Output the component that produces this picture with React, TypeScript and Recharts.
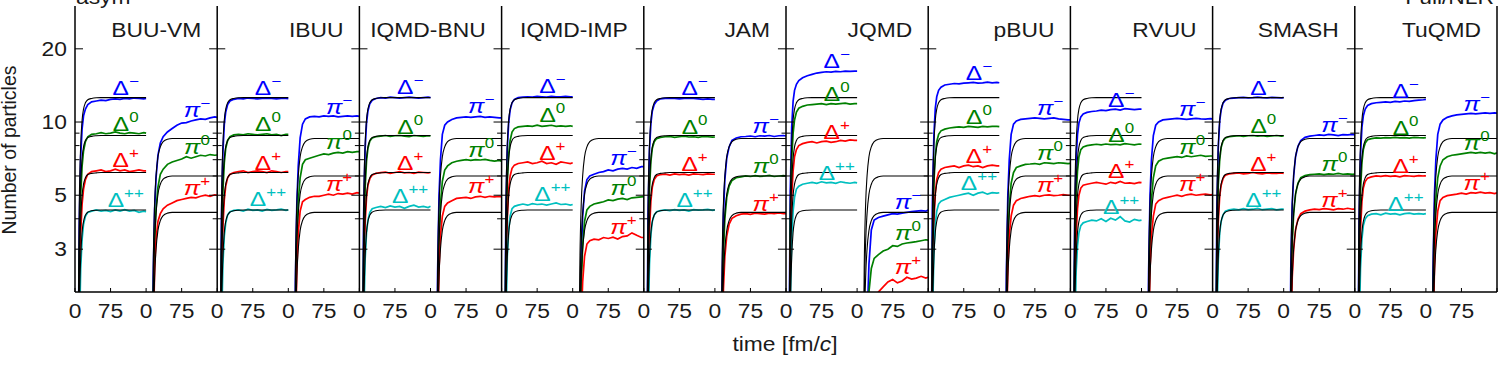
import React from "react";
import { ComposedChart, Line, XAxis, YAxis, ReferenceLine, ReferenceDot } from "recharts";

const FONT = "'Liberation Sans', Arial, Helvetica, sans-serif";
const TEXT = "#1a1a1a";
const STRETCH = 1.17;
const BLUE = "#0000ff";
const GREEN = "#008000";
const RED = "#ff0000";
const CYAN = "#00bfbf";

const MODELS = ["BUU-VM", "IBUU", "IQMD-BNU", "IQMD-IMP", "JAM", "JQMD", "pBUU", "RVUU", "SMASH", "TuQMD"];

// each sub-panel spans 0..150 fm/c; a model panel = Delta sub-panel + pion sub-panel
const SPAN = 150;
const T_DELTA = [6, 9, 12, 15, 18, 22, 27, 35, 45, 55, 65, 75, 85, 95, 105, 115, 125, 135, 145, 150];
const T_PION = [12, 15, 18, 21, 25, 30, 36, 45, 55, 65, 75, 85, 95, 105, 115, 125, 135, 145, 150];
const LABEL_T = 105;

const X_TICKS = Array.from({ length: 41 }, (_, i) => i * 75);
const X_TICK_LABELS = ["0", "75"];
const Y_TICKS = [3, 4, 5, 6, 7, 8, 9, 10, 20];
const Y_LABELED = [3, 5, 10, 20];

// black reference curves (same in every panel)
const REF_DM = [0.8, 4.5, 8.0, 10.2, 11.3, 12.0, 12.35, 12.5, 12.58, 12.6, 12.6, 12.6, 12.6, 12.6, 12.6, 12.6, 12.6, 12.6, 12.6, 12.6];
const REF_D0 = [0.56, 3.15, 5.6, 7.1, 7.9, 8.4, 8.63, 8.73, 8.78, 8.8, 8.8, 8.8, 8.8, 8.8, 8.8, 8.8, 8.8, 8.8, 8.8, 8.8];
const REF_DP = [0.4, 2.2, 3.95, 5.0, 5.55, 5.9, 6.08, 6.15, 6.18, 6.2, 6.2, 6.2, 6.2, 6.2, 6.2, 6.2, 6.2, 6.2, 6.2, 6.2];
const REF_DPP = [0.28, 1.55, 2.76, 3.52, 3.9, 4.14, 4.26, 4.32, 4.34, 4.35, 4.35, 4.35, 4.35, 4.35, 4.35, 4.35, 4.35, 4.35, 4.35, 4.35];
const REF_PM = [0.5, 2.5, 4.6, 6.0, 7.2, 7.9, 8.3, 8.5, 8.55, 8.55, 8.55, 8.55, 8.55, 8.55, 8.55, 8.55, 8.55, 8.55, 8.55];
const REF_P0 = [0.35, 1.75, 3.2, 4.2, 5.05, 5.55, 5.82, 5.95, 6.0, 6.0, 6.0, 6.0, 6.0, 6.0, 6.0, 6.0, 6.0, 6.0, 6.0];
const REF_PP = [0.25, 1.25, 2.3, 3.0, 3.58, 3.93, 4.12, 4.22, 4.25, 4.25, 4.25, 4.25, 4.25, 4.25, 4.25, 4.25, 4.25, 4.25, 4.25];

// BUU-VM
const BUUVM_DM = [0.6, 3.8, 7.2, 9.4, 10.6, 11.3, 11.8, 12.1, 12.2, 12.3, 12.25, 12.4, 12.45, 12.4, 12.5, 12.45, 12.55, 12.5, 12.45, 12.5];
const BUUVM_D0 = [0.45, 2.6, 5.0, 6.6, 7.6, 8.3, 8.7, 8.9, 8.95, 9.05, 8.95, 9.0, 9.1, 9.0, 8.95, 9.05, 9.0, 8.95, 9.05, 9.0];
const BUUVM_DP = [0.3, 1.8, 3.5, 4.6, 5.3, 5.8, 6.1, 6.25, 6.3, 6.35, 6.25, 6.3, 6.4, 6.3, 6.35, 6.25, 6.3, 6.35, 6.3, 6.3];
const BUUVM_DPP = [0.2, 1.3, 2.5, 3.3, 3.8, 4.1, 4.25, 4.3, 4.35, 4.3, 4.33, 4.28, 4.35, 4.3, 4.36, 4.3, 4.33, 4.25, 4.3, 4.28];
const BUUVM_PM = [0.45, 2.3, 4.4, 5.9, 7.3, 8.2, 8.7, 9.1, 9.4, 9.7, 9.9, 9.95, 10.1, 10.2, 10.3, 10.25, 10.4, 10.5, 10.45];
const BUUVM_P0 = [0.35, 1.8, 3.3, 4.4, 5.4, 6.1, 6.4, 6.7, 6.85, 6.95, 7.05, 7.2, 7.1, 7.2, 7.3, 7.25, 7.35, 7.3, 7.32];
const BUUVM_PP = [0.25, 1.3, 2.5, 3.3, 3.9, 4.2, 4.4, 4.55, 4.65, 4.75, 4.8, 4.85, 4.9, 4.88, 4.95, 5.0, 4.95, 5.02, 5.0];

// IBUU
const IBUU_DM = [0.65, 4.0, 7.5, 9.8, 11.0, 11.8, 12.2, 12.4, 12.5, 12.45, 12.55, 12.5, 12.45, 12.5, 12.55, 12.5, 12.45, 12.5, 12.5, 12.48];
const IBUU_D0 = [0.48, 2.8, 5.2, 6.8, 7.8, 8.4, 8.7, 8.85, 8.9, 8.85, 8.95, 8.9, 8.85, 8.9, 8.95, 8.85, 8.9, 8.8, 8.9, 8.9];
const IBUU_DP = [0.33, 1.9, 3.7, 4.8, 5.45, 5.9, 6.1, 6.2, 6.25, 6.3, 6.2, 6.25, 6.3, 6.25, 6.2, 6.3, 6.25, 6.2, 6.25, 6.25];
const IBUU_DPP = [0.22, 1.35, 2.6, 3.4, 3.85, 4.15, 4.28, 4.33, 4.35, 4.3, 4.38, 4.33, 4.35, 4.3, 4.37, 4.33, 4.35, 4.38, 4.33, 4.35];
const IBUU_PM = [0.4, 2.2, 4.6, 6.6, 8.6, 9.8, 10.3, 10.5, 10.55, 10.5, 10.6, 10.55, 10.6, 10.5, 10.55, 10.6, 10.55, 10.6, 10.55];
const IBUU_P0 = [0.3, 1.6, 3.3, 4.7, 5.9, 6.7, 7.0, 7.1, 7.2, 7.3, 7.4, 7.35, 7.45, 7.5, 7.45, 7.55, 7.5, 7.55, 7.55];
const IBUU_PP = [0.22, 1.2, 2.5, 3.5, 4.3, 4.7, 4.8, 4.9, 4.95, 4.95, 5.0, 5.05, 5.0, 5.08, 5.05, 5.1, 5.05, 5.12, 5.1];

// IQMD-BNU
const BNU_DM = [0.7, 4.2, 7.7, 9.9, 11.1, 11.9, 12.3, 12.5, 12.6, 12.55, 12.65, 12.6, 12.55, 12.6, 12.65, 12.6, 12.55, 12.6, 12.65, 12.6];
const BNU_D0 = [0.5, 2.9, 5.3, 6.9, 7.8, 8.35, 8.6, 8.7, 8.75, 8.8, 8.72, 8.78, 8.8, 8.75, 8.7, 8.8, 8.76, 8.72, 8.78, 8.76];
const BNU_DP = [0.35, 2.0, 3.8, 4.9, 5.5, 5.85, 6.05, 6.15, 6.2, 6.22, 6.15, 6.2, 6.25, 6.18, 6.2, 6.15, 6.22, 6.2, 6.18, 6.2];
const BNU_DPP = [0.24, 1.45, 2.7, 3.5, 3.95, 4.25, 4.4, 4.45, 4.5, 4.45, 4.52, 4.47, 4.5, 4.42, 4.5, 4.55, 4.47, 4.5, 4.45, 4.5];
const BNU_PM = [0.45, 2.4, 5.0, 7.0, 8.9, 9.7, 10.0, 10.25, 10.4, 10.45, 10.5, 10.45, 10.5, 10.55, 10.45, 10.5, 10.45, 10.4, 10.4];
const BNU_P0 = [0.32, 1.6, 3.3, 4.6, 5.7, 6.35, 6.6, 6.8, 6.9, 6.95, 7.0, 6.95, 7.0, 6.98, 7.02, 6.95, 6.9, 6.95, 6.9];
const BNU_PP = [0.22, 1.2, 2.5, 3.4, 4.1, 4.5, 4.65, 4.75, 4.85, 4.88, 4.9, 4.85, 4.92, 4.95, 4.9, 4.95, 4.92, 4.95, 4.93];

// IQMD-IMP
const IMP_DM = [0.7, 4.2, 7.8, 10.0, 11.2, 12.0, 12.4, 12.6, 12.65, 12.7, 12.65, 12.75, 12.7, 12.65, 12.75, 12.7, 12.7, 12.75, 12.7, 12.7];
const IMP_D0 = [0.5, 3.0, 5.7, 7.4, 8.4, 9.1, 9.4, 9.55, 9.6, 9.65, 9.6, 9.7, 9.6, 9.65, 9.7, 9.6, 9.65, 9.6, 9.65, 9.6];
const IMP_DP = [0.35, 2.1, 4.0, 5.3, 6.0, 6.45, 6.65, 6.75, 6.8, 6.85, 6.75, 6.8, 6.9, 6.75, 6.8, 6.7, 6.85, 6.8, 6.75, 6.8];
const IMP_DPP = [0.25, 1.45, 2.8, 3.6, 4.1, 4.4, 4.5, 4.55, 4.6, 4.55, 4.62, 4.58, 4.6, 4.55, 4.6, 4.65, 4.58, 4.6, 4.55, 4.58];
const IMP_PM = [0.3, 1.2, 2.8, 4.1, 5.2, 5.8, 6.0, 6.1, 6.2, 6.25, 6.35, 6.3, 6.4, 6.45, 6.4, 6.5, 6.45, 6.55, 6.55];
const IMP_P0 = [0.2, 0.9, 2.1, 3.1, 3.9, 4.35, 4.5, 4.6, 4.65, 4.7, 4.78, 4.75, 4.82, 4.85, 4.8, 4.88, 4.9, 4.92, 4.93];
const IMP_PP = [0.15, 0.65, 1.5, 2.2, 2.8, 3.15, 3.25, 3.3, 3.28, 3.35, 3.32, 3.36, 3.3, 3.38, 3.4, 3.5, 3.42, 3.35, 3.35];

// JAM
const JAM_DM = [0.7, 4.2, 7.7, 9.9, 11.1, 11.8, 12.2, 12.45, 12.5, 12.55, 12.5, 12.45, 12.5, 12.55, 12.5, 12.45, 12.4, 12.45, 12.4, 12.4];
const JAM_D0 = [0.5, 2.9, 5.3, 6.9, 7.8, 8.3, 8.55, 8.65, 8.7, 8.72, 8.65, 8.7, 8.75, 8.68, 8.7, 8.65, 8.72, 8.7, 8.66, 8.68];
const JAM_DP = [0.33, 1.9, 3.6, 4.75, 5.4, 5.8, 6.0, 6.08, 6.1, 6.05, 6.12, 6.08, 6.1, 6.05, 6.12, 6.1, 6.08, 6.12, 6.1, 6.1];
const JAM_DPP = [0.24, 1.4, 2.6, 3.45, 3.9, 4.15, 4.28, 4.32, 4.35, 4.32, 4.36, 4.33, 4.35, 4.3, 4.36, 4.34, 4.35, 4.37, 4.33, 4.35];
const JAM_PM = [0.4, 2.0, 4.2, 5.8, 7.1, 7.9, 8.4, 8.6, 8.7, 8.72, 8.76, 8.7, 8.78, 8.75, 8.8, 8.72, 8.78, 8.8, 8.76];
const JAM_P0 = [0.28, 1.4, 2.9, 4.0, 4.9, 5.45, 5.75, 5.9, 5.95, 6.0, 5.97, 6.02, 5.98, 6.0, 6.03, 5.97, 6.0, 6.02, 6.0];
const JAM_PP = [0.2, 1.0, 2.05, 2.8, 3.4, 3.8, 4.02, 4.12, 4.18, 4.2, 4.17, 4.22, 4.2, 4.18, 4.22, 4.2, 4.23, 4.2, 4.2];

// JQMD
const JQMD_DM = [0.9, 5.2, 9.5, 12.2, 13.5, 14.3, 14.8, 15.2, 15.5, 15.7, 15.9, 16.0, 16.1, 16.05, 16.15, 16.1, 16.2, 16.15, 16.2, 16.2];
const JQMD_D0 = [0.65, 3.9, 7.0, 9.0, 10.2, 11.0, 11.4, 11.6, 11.75, 11.8, 11.85, 11.9, 11.8, 11.9, 11.85, 11.9, 11.95, 11.85, 11.9, 11.9];
const JQMD_DP = [0.45, 2.7, 4.9, 6.3, 7.2, 7.7, 8.0, 8.15, 8.25, 8.3, 8.2, 8.3, 8.35, 8.25, 8.3, 8.4, 8.35, 8.45, 8.4, 8.4];
const JQMD_DPP = [0.3, 1.8, 3.3, 4.3, 4.9, 5.3, 5.45, 5.55, 5.6, 5.65, 5.6, 5.68, 5.62, 5.65, 5.6, 5.68, 5.63, 5.6, 5.65, 5.62];
const JQMD_PM = [0.1, 0.3, 0.8, 1.5, 2.6, 3.6, 3.95, 4.05, 4.1, 4.15, 4.2, 4.18, 4.22, 4.25, 4.28, 4.3, 4.32, 4.3, 4.35];
const JQMD_P0 = [0.1, 0.3, 0.7, 1.3, 2.0, 2.5, 2.75, 2.85, 2.95, 3.0, 3.1, 3.08, 3.15, 3.18, 3.2, 3.22, 3.25, 3.28, 3.27];
const JQMD_PP = [0.05, 0.2, 0.4, 0.7, 1.1, 1.5, 1.8, 2.0, 2.1, 2.2, 2.25, 2.18, 2.22, 2.3, 2.26, 2.28, 2.32, 2.28, 2.3];

// pBUU
const PBUU_DM = [0.8, 4.8, 8.8, 11.4, 12.7, 13.5, 13.9, 14.2, 14.3, 14.4, 14.35, 14.45, 14.5, 14.55, 14.45, 14.5, 14.6, 14.5, 14.55, 14.5];
const PBUU_D0 = [0.5, 3.0, 5.6, 7.3, 8.3, 8.9, 9.2, 9.35, 9.45, 9.5, 9.55, 9.5, 9.6, 9.55, 9.5, 9.6, 9.55, 9.6, 9.6, 9.57];
const PBUU_DP = [0.35, 2.1, 3.9, 5.1, 5.8, 6.2, 6.4, 6.5, 6.55, 6.6, 6.5, 6.6, 6.65, 6.55, 6.6, 6.5, 6.6, 6.65, 6.6, 6.6];
const PBUU_DPP = [0.25, 1.5, 2.9, 3.8, 4.3, 4.6, 4.72, 4.8, 4.9, 4.95, 5.0, 5.05, 5.1, 5.0, 5.1, 5.15, 5.05, 5.12, 5.1, 5.12];
const PBUU_PM = [0.45, 2.4, 5.0, 7.0, 8.9, 9.8, 10.1, 10.25, 10.3, 10.35, 10.4, 10.35, 10.3, 10.35, 10.4, 10.3, 10.25, 10.2, 10.2];
const PBUU_P0 = [0.3, 1.6, 3.2, 4.5, 5.6, 6.2, 6.5, 6.6, 6.7, 6.72, 6.75, 6.7, 6.8, 6.78, 6.75, 6.8, 6.78, 6.75, 6.76];
const PBUU_PP = [0.22, 1.2, 2.5, 3.4, 4.1, 4.55, 4.75, 4.85, 4.9, 4.95, 4.98, 4.95, 5.0, 5.02, 4.98, 5.0, 5.03, 5.0, 5.0];

// RVUU
const RVUU_DM = [0.6, 3.8, 7.0, 8.9, 9.9, 10.5, 10.8, 10.95, 11.05, 11.1, 11.2, 11.15, 11.25, 11.3, 11.2, 11.35, 11.3, 11.25, 11.3, 11.3];
const RVUU_D0 = [0.45, 2.6, 4.9, 6.3, 7.2, 7.7, 7.9, 8.0, 8.05, 8.1, 8.05, 8.12, 8.08, 8.1, 8.05, 8.15, 8.1, 8.05, 8.12, 8.1];
const RVUU_DP = [0.3, 1.8, 3.4, 4.4, 5.0, 5.35, 5.5, 5.55, 5.6, 5.65, 5.6, 5.55, 5.65, 5.6, 5.7, 5.6, 5.62, 5.58, 5.65, 5.63];
const RVUU_DPP = [0.2, 1.2, 2.4, 3.1, 3.5, 3.75, 3.85, 3.9, 3.95, 3.92, 4.0, 3.9, 4.02, 3.95, 4.08, 3.92, 3.88, 3.98, 3.93, 3.95];
const RVUU_PM = [0.45, 2.4, 5.0, 7.0, 8.8, 9.7, 10.0, 10.2, 10.25, 10.3, 10.35, 10.3, 10.25, 10.3, 10.35, 10.3, 10.28, 10.32, 10.3];
const RVUU_P0 = [0.33, 1.7, 3.4, 4.8, 5.9, 6.6, 6.9, 7.05, 7.1, 7.15, 7.2, 7.15, 7.25, 7.2, 7.25, 7.3, 7.22, 7.25, 7.25];
const RVUU_PP = [0.22, 1.2, 2.5, 3.4, 4.1, 4.6, 4.75, 4.85, 4.9, 4.95, 5.0, 4.95, 5.02, 5.05, 5.0, 5.03, 5.05, 5.02, 5.03];

// SMASH
const SMASH_DM = [0.75, 4.4, 7.9, 10.1, 11.2, 11.95, 12.3, 12.5, 12.55, 12.6, 12.62, 12.58, 12.6, 12.65, 12.6, 12.58, 12.62, 12.6, 12.58, 12.6];
const SMASH_D0 = [0.52, 3.0, 5.5, 7.0, 7.85, 8.35, 8.6, 8.7, 8.75, 8.78, 8.72, 8.78, 8.8, 8.75, 8.78, 8.72, 8.76, 8.8, 8.75, 8.76];
const SMASH_DP = [0.37, 2.1, 3.9, 4.95, 5.5, 5.85, 6.05, 6.12, 6.15, 6.18, 6.12, 6.15, 6.2, 6.15, 6.12, 6.18, 6.15, 6.15, 6.18, 6.15];
const SMASH_DPP = [0.26, 1.5, 2.7, 3.5, 3.9, 4.15, 4.3, 4.35, 4.38, 4.35, 4.4, 4.36, 4.38, 4.42, 4.36, 4.38, 4.4, 4.35, 4.38, 4.38];
const SMASH_PM = [0.5, 2.5, 4.6, 6.0, 7.2, 7.95, 8.4, 8.65, 8.75, 8.8, 8.85, 8.82, 8.9, 8.85, 8.8, 8.88, 8.85, 8.9, 8.85];
const SMASH_P0 = [0.35, 1.75, 3.2, 4.2, 5.05, 5.6, 5.9, 6.02, 6.08, 6.1, 6.12, 6.08, 6.12, 6.1, 6.15, 6.1, 6.12, 6.1, 6.11];
const SMASH_PP = [0.25, 1.25, 2.3, 3.0, 3.6, 3.98, 4.2, 4.3, 4.35, 4.38, 4.36, 4.4, 4.38, 4.35, 4.4, 4.38, 4.42, 4.38, 4.38];

// TuQMD
const TUQMD_DM = [0.6, 3.9, 7.3, 9.5, 10.6, 11.3, 11.7, 11.9, 12.0, 12.05, 12.1, 12.05, 12.15, 12.1, 12.2, 12.15, 12.25, 12.3, 12.35, 12.4];
const TUQMD_D0 = [0.48, 2.8, 5.2, 6.8, 7.7, 8.2, 8.45, 8.55, 8.6, 8.58, 8.62, 8.6, 8.65, 8.6, 8.62, 8.58, 8.65, 8.62, 8.6, 8.62];
const TUQMD_DP = [0.33, 1.9, 3.6, 4.7, 5.35, 5.7, 5.88, 5.95, 6.0, 5.98, 6.02, 5.98, 6.0, 5.95, 6.02, 6.0, 5.98, 6.02, 6.0, 6.0];
const TUQMD_DPP = [0.22, 1.3, 2.5, 3.3, 3.75, 4.0, 4.12, 4.18, 4.2, 4.15, 4.22, 4.18, 4.2, 4.15, 4.2, 4.22, 4.18, 4.2, 4.18, 4.2];
const TUQMD_PM = [0.45, 2.4, 5.0, 7.0, 8.9, 9.8, 10.2, 10.45, 10.6, 10.7, 10.75, 10.8, 10.85, 10.8, 10.85, 10.9, 10.85, 10.9, 10.88];
const TUQMD_P0 = [0.33, 1.7, 3.4, 4.8, 5.9, 6.6, 7.0, 7.2, 7.3, 7.35, 7.4, 7.45, 7.5, 7.45, 7.5, 7.45, 7.5, 7.4, 7.48];
const TUQMD_PP = [0.22, 1.2, 2.5, 3.5, 4.3, 4.75, 4.9, 4.98, 5.02, 5.05, 5.1, 5.05, 5.12, 5.1, 5.15, 5.1, 5.12, 5.08, 5.12];

const CURVES = [
  { dm: BUUVM_DM, d0: BUUVM_D0, dp: BUUVM_DP, dpp: BUUVM_DPP, pm: BUUVM_PM, p0: BUUVM_P0, pp: BUUVM_PP },
  { dm: IBUU_DM, d0: IBUU_D0, dp: IBUU_DP, dpp: IBUU_DPP, pm: IBUU_PM, p0: IBUU_P0, pp: IBUU_PP },
  { dm: BNU_DM, d0: BNU_D0, dp: BNU_DP, dpp: BNU_DPP, pm: BNU_PM, p0: BNU_P0, pp: BNU_PP },
  { dm: IMP_DM, d0: IMP_D0, dp: IMP_DP, dpp: IMP_DPP, pm: IMP_PM, p0: IMP_P0, pp: IMP_PP },
  { dm: JAM_DM, d0: JAM_D0, dp: JAM_DP, dpp: JAM_DPP, pm: JAM_PM, p0: JAM_P0, pp: JAM_PP },
  { dm: JQMD_DM, d0: JQMD_D0, dp: JQMD_DP, dpp: JQMD_DPP, pm: JQMD_PM, p0: JQMD_P0, pp: JQMD_PP },
  { dm: PBUU_DM, d0: PBUU_D0, dp: PBUU_DP, dpp: PBUU_DPP, pm: PBUU_PM, p0: PBUU_P0, pp: PBUU_PP },
  { dm: RVUU_DM, d0: RVUU_D0, dp: RVUU_DP, dpp: RVUU_DPP, pm: RVUU_PM, p0: RVUU_P0, pp: RVUU_PP },
  { dm: SMASH_DM, d0: SMASH_D0, dp: SMASH_DP, dpp: SMASH_DPP, pm: SMASH_PM, p0: SMASH_P0, pp: SMASH_PP },
  { dm: TUQMD_DM, d0: TUQMD_D0, dp: TUQMD_DP, dpp: TUQMD_DPP, pm: TUQMD_PM, p0: TUQMD_P0, pp: TUQMD_PP },
];

const SPECIES = [
  { key: "dm", pion: false, base: "Δ", sup: "−", color: BLUE, ref: REF_DM },
  { key: "d0", pion: false, base: "Δ", sup: "0", color: GREEN, ref: REF_D0 },
  { key: "dp", pion: false, base: "Δ", sup: "+", color: RED, ref: REF_DP },
  { key: "dpp", pion: false, base: "Δ", sup: "++", color: CYAN, ref: REF_DPP },
  { key: "pm", pion: true, base: "π", sup: "−", color: BLUE, ref: REF_PM },
  { key: "p0", pion: true, base: "π", sup: "0", color: GREEN, ref: REF_P0 },
  { key: "pp", pion: true, base: "π", sup: "+", color: RED, ref: REF_PP },
];

const X_MAX = MODELS.length * 2 * SPAN;
const AXIS = { stroke: "#000", strokeWidth: 1.5 };

const toPoints = (offset: number, times: number[], vals: number[]) =>
  times.map((t, i) => ({ x: offset + t, y: vals[i] }));

const StretchText = ({ x, y, anchor, children, size = 19.5, color = TEXT, dy }: any) => (
  <g transform={`translate(${x},${y}) scale(${STRETCH},1)`}>
    <text x={0} y={0} dy={dy} textAnchor={anchor} fontSize={size} fontFamily={FONT} fill={color}>
      {children}
    </text>
  </g>
);

const BottomTick = ({ x, y, payload }: any) => {
  const v = payload.value;
  return (
    <g>
      <line x1={x} x2={x} y1={y} y2={y - 4} stroke="#000" />
      {v < X_MAX && (
        <StretchText x={x} y={y + 26} anchor="middle">
          {v % (2 * 75) === 0 ? X_TICK_LABELS[0] : X_TICK_LABELS[1]}
        </StretchText>
      )}
    </g>
  );
};

const TopTick = ({ x, y }: any) => <line x1={x} x2={x} y1={y} y2={y + 4} stroke="#000" />;

const LeftTick = ({ x, y, payload }: any) => {
  const major = Y_LABELED.includes(payload.value);
  return (
    <g>
      <line x1={x} x2={x + (major ? 8 : 4.5)} y1={y} y2={y} stroke="#000" />
      {major && (
        <StretchText x={x - 8} y={y} dy="0.36em" anchor="end">
          {payload.value}
        </StretchText>
      )}
    </g>
  );
};

const RightTick = ({ x, y, payload }: any) => {
  const major = Y_LABELED.includes(payload.value);
  return <line x1={x} x2={x - (major ? 8 : 4.5)} y1={y} y2={y} stroke="#000" />;
};

const ModelLabel = ({ viewBox, name }: any) => {
  const x = viewBox?.x ?? 0;
  const y = viewBox?.y ?? 0;
  return (
    <StretchText x={x - 16} y={y + 30.5} anchor="end">
      {name}
    </StretchText>
  );
};

const SpeciesLabel = ({ viewBox, base, sup, color }: any) => {
  const x = viewBox?.x ?? 0;
  const y = viewBox?.y ?? 0;
  return (
    <g transform={`translate(${x + 1},${y - 3}) scale(${STRETCH},1)`}>
      <text textAnchor="middle" fontFamily={FONT} fontSize={21} fill={color}>
        <tspan fontStyle={base === "π" ? "italic" : "normal"}>{base}</tspan>
        <tspan fontSize={14.5} dy={-9}>
          {sup}
        </tspan>
      </text>
    </g>
  );
};

export default function App() {
  const colored = MODELS.flatMap((m, k) =>
    SPECIES.map((s) => {
      const offset = 2 * SPAN * k + (s.pion ? SPAN : 0);
      const times = s.pion ? T_PION : T_DELTA;
      return (
        <Line
          key={`c-${m}-${s.key}`}
          data={toPoints(offset, times, (CURVES[k] as any)[s.key])}
          dataKey="y"
          xAxisId="b"
          yAxisId="l"
          type="linear"
          stroke={s.color}
          strokeWidth={1.7}
          dot={false}
          isAnimationActive={false}
        />
      );
    })
  );

  const reference = MODELS.flatMap((m, k) =>
    SPECIES.map((s) => {
      const offset = 2 * SPAN * k + (s.pion ? SPAN : 0);
      const times = s.pion ? T_PION : T_DELTA;
      return (
        <Line
          key={`r-${m}-${s.key}`}
          data={toPoints(offset, times, s.ref)}
          dataKey="y"
          xAxisId="t"
          yAxisId="r"
          type="monotone"
          stroke="#000"
          strokeWidth={1.1}
          dot={false}
          isAnimationActive={false}
        />
      );
    })
  );

  const labels = MODELS.flatMap((m, k) =>
    SPECIES.map((s) => {
      const offset = 2 * SPAN * k + (s.pion ? SPAN : 0);
      const times = s.pion ? T_PION : T_DELTA;
      const vals = (CURVES[k] as any)[s.key];
      return (
        <ReferenceDot
          key={`l-${m}-${s.key}`}
          xAxisId="b"
          yAxisId="l"
          x={offset + LABEL_T}
          y={vals[times.indexOf(LABEL_T)]}
          r={0}
          fill="none"
          stroke="none"
          label={<SpeciesLabel base={s.base} sup={s.sup} color={s.color} />}
        />
      );
    })
  );

  const dividers = MODELS.map((m, k) => (
    <ReferenceLine
      key={`d-${m}`}
      xAxisId="b"
      yAxisId="l"
      x={2 * SPAN * (k + 1)}
      stroke="#000"
      strokeWidth={1.5}
      label={<ModelLabel name={m} />}
    />
  ));

  const dividerTicks = MODELS.slice(1).flatMap((m, k) =>
    Y_TICKS.map((v) => {
      const cx = 2 * SPAN * (k + 1);
      const d = Y_LABELED.includes(v) ? 17 : 9.5;
      return (
        <ReferenceLine
          key={`dt-${m}-${v}`}
          xAxisId="b"
          yAxisId="l"
          segment={[
            { x: cx - d, y: v },
            { x: cx + d, y: v },
          ]}
          stroke="#000"
          strokeWidth={1}
        />
      );
    })
  );

  return (
    <div style={{ position: "absolute", left: 0, top: 0, width: 1510, height: 369, background: "#fff" }}>
      <ComposedChart width={1510} height={369} margin={{ top: 6, right: 13, bottom: 0, left: 0 }}>
        <XAxis
          xAxisId="b"
          type="number"
          dataKey="x"
          domain={[0, X_MAX]}
          allowDataOverflow
          ticks={X_TICKS}
          interval={0}
          height={77}
          tickSize={0}
          tickMargin={0}
          tickLine={false}
          axisLine={AXIS}
          tick={(p: any) => <BottomTick {...p} />}
        />
        <XAxis
          xAxisId="t"
          orientation="top"
          type="number"
          dataKey="x"
          domain={[0, X_MAX]}
          allowDataOverflow
          ticks={X_TICKS}
          interval={0}
          height={0}
          tickSize={0}
          tickMargin={0}
          tickLine={false}
          axisLine={AXIS}
          tick={(p: any) => <TopTick {...p} />}
        />
        <YAxis
          yAxisId="l"
          type="number"
          scale="log"
          domain={[2, 30]}
          allowDataOverflow
          ticks={Y_TICKS}
          interval={0}
          width={75}
          tickSize={0}
          tickMargin={0}
          tickLine={false}
          axisLine={AXIS}
          tick={(p: any) => <LeftTick {...p} />}
        />
        <YAxis
          yAxisId="r"
          orientation="right"
          type="number"
          scale="log"
          domain={[2, 30]}
          allowDataOverflow
          ticks={Y_TICKS}
          interval={0}
          width={0}
          tickSize={0}
          tickMargin={0}
          tickLine={false}
          axisLine={AXIS}
          tick={(p: any) => <RightTick {...p} />}
        />
        {colored}
        {reference}
        {dividers}
        {dividerTicks}
        {labels}
      </ComposedChart>
      <svg width={1510} height={369} style={{ position: "absolute", left: 0, top: 0, pointerEvents: "none" }}>
        <StretchText x={76} y={3.5} anchor="start">asym</StretchText>
        <StretchText x={1494} y={3.5} anchor="end">Full/NLR</StretchText>
        <StretchText x={785} y={351} anchor="middle">
          time [fm/<tspan fontStyle="italic">c</tspan>]
        </StretchText>
        <g transform="translate(16,150) rotate(-90)">
          <text textAnchor="middle" fontSize={19.5} fontFamily={FONT} fill={TEXT}>
            Number of particles
          </text>
        </g>
      </svg>
    </div>
  );
}
